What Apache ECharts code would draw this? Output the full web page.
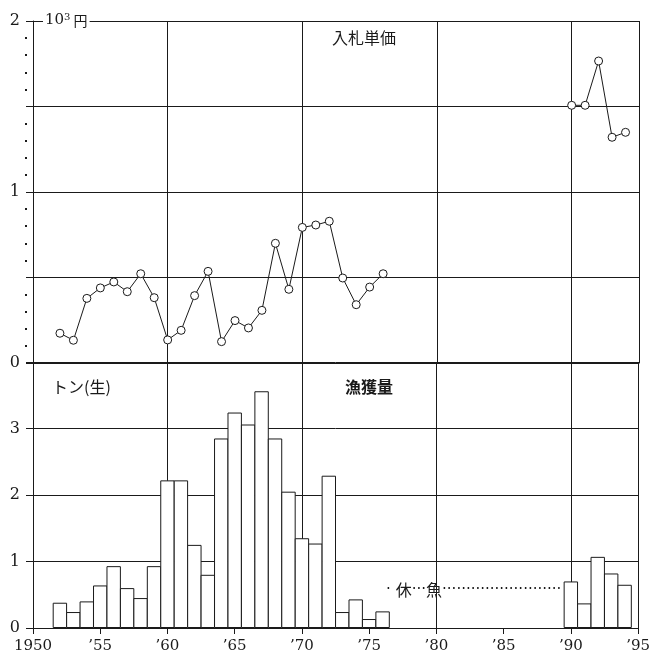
<!DOCTYPE html>
<html><head><meta charset="utf-8">
<script src="https://cdn.jsdelivr.net/npm/echarts@6/dist/echarts.min.js"></script>
<style>html,body{margin:0;padding:0;background:#fff}#c{width:653px;height:662px}</style>
</head><body><div id="c"></div>
<script>
// 入札単価 (10^3 円)
const priceYears = [1952,1953,1954,1955,1956,1957,1958,1959,1960,1961,1962,1963,1964,1965,1966,1967,1968,1969,1970,1971,1972,1973,1974,1975,1976,1990,1991,1992,1993,1994];
const priceValues = [0.174,0.133,0.378,0.439,0.474,0.417,0.522,0.382,0.135,0.191,0.394,0.536,0.125,0.248,0.205,0.308,0.70,0.431,0.793,0.807,0.829,0.497,0.341,0.444,0.522,1.507,1.507,1.766,1.32,1.349];
// 漁獲量 (トン)
const catchYears = [1952,1953,1954,1955,1956,1957,1958,1959,1960,1961,1962,1963,1964,1965,1966,1967,1968,1969,1970,1971,1972,1973,1974,1975,1976,1990,1991,1992,1993,1994];
const catchValues = [0.38,0.24,0.40,0.64,0.93,0.60,0.45,0.93,2.22,2.22,1.25,0.80,2.85,3.24,3.06,3.56,2.85,2.05,1.35,1.27,2.29,0.24,0.43,0.135,0.25,0.70,0.37,1.07,0.82,0.65];
// axis ticks
const xMin = 1950, xMax = 1995;
const topYMax = 2, bottomYMax = 4;

const SERIF = '"DejaVu Serif", "Liberation Serif", serif';
const CJK = '"Noto Sans CJK JP", sans-serif';
const LATIN = '"DejaVu Sans", sans-serif';
const INK = '#1a1a1a';

const priceData = [];
for (let i = 0; i < priceYears.length; i++) {
  if (i > 0 && priceYears[i] - priceYears[i-1] > 1) priceData.push([(priceYears[i] + priceYears[i-1]) / 2, '-']);
  priceData.push([priceYears[i], priceValues[i]]);
}
const catchData = catchYears.map((y, i) => [y, catchValues[i]]);

const chart = echarts.init(document.getElementById('c'), null, {renderer: 'canvas'});
const gridLine = {show: true, lineStyle: {color: INK, width: 1}};
const axisLine = {show: true, lineStyle: {color: INK, width: 1}};

chart.setOption({
  animation: false,
  backgroundColor: '#fff',
  grid: [
    {left: 33, top: 21, width: 606, height: 342},
    {left: 33, top: 362, width: 606, height: 266}
  ],
  xAxis: [
    {gridIndex: 0, type: 'value', min: xMin, max: xMax, interval: 10, position: 'bottom',
     axisLine: axisLine, axisTick: {show: false}, axisLabel: {show: false}, splitLine: gridLine},
    {gridIndex: 1, type: 'value', min: xMin, max: xMax, interval: 10, position: 'bottom',
     axisLine: {show: false}, axisTick: {show: false}, axisLabel: {show: false}, splitLine: gridLine},
    {gridIndex: 1, type: 'value', min: xMin, max: xMax, interval: 5, position: 'bottom',
     axisLine: axisLine, axisTick: {show: true, inside: false, length: 6, lineStyle: {color: INK}},
     splitLine: {show: false},
     axisLabel: {show: true, margin: 11, color: INK, fontFamily: SERIF, fontSize: 15,
       formatter: v => v === 1950 ? '1950' : '\u2019' + String(v).slice(2)}}
  ],
  yAxis: [
    {gridIndex: 0, type: 'value', min: 0, max: topYMax, interval: 0.5, position: 'left',
     axisLine: axisLine, axisTick: {show: true, inside: false, length: 7, lineStyle: {color: INK}},
     splitLine: gridLine,
     axisLabel: {show: true, margin: 13, color: INK, fontFamily: SERIF, fontSize: 16,
       formatter: v => Number.isInteger(v) ? String(v) : ''}},
    {gridIndex: 0, type: 'value', min: 0, max: topYMax, interval: 0.5, position: 'left', offset: 6,
     axisLine: {show: false}, axisTick: {show: false}, axisLabel: {show: false}, splitLine: {show: false},
     minorTick: {show: true, splitNumber: 5, length: 2, lineStyle: {color: INK, width: 2}}},
    {gridIndex: 1, type: 'value', min: 0, max: bottomYMax, interval: 1, position: 'left',
     axisLine: axisLine, axisTick: {show: true, inside: false, length: 7, lineStyle: {color: INK}},
     splitLine: gridLine,
     axisLabel: {show: true, margin: 13, color: INK, fontFamily: SERIF, fontSize: 16,
       formatter: v => v === bottomYMax ? '' : String(v)}}
  ],
  series: [
    {type: 'line', xAxisIndex: 0, yAxisIndex: 0, data: priceData, connectNulls: false,
     symbol: 'circle', symbolSize: 8, showSymbol: true,
     lineStyle: {color: INK, width: 1},
     itemStyle: {color: '#fff', borderColor: INK, borderWidth: 1}, z: 5},
    {type: 'bar', xAxisIndex: 2, yAxisIndex: 2, data: catchData, barWidth: 14.4,
     itemStyle: {color: '#fff', borderColor: INK, borderWidth: 1}, z: 5}
  ],
  graphic: [
    {type: 'text', left: 43, top: 12, z: 100,
     style: {text: '{a|10}{b|3}{c| 円}', backgroundColor: '#fff', padding: [0, 2],
       rich: {a: {fontFamily: SERIF, fontSize: 15, fill: INK, color: INK},
              b: {fontFamily: SERIF, fontSize: 10, verticalAlign: 'top', fill: INK, color: INK, padding: [0, 0, 7, 0]},
              c: {fontFamily: CJK, fontSize: 14, fill: INK, color: INK}}}},
    {type: 'text', left: 332, top: 30, z: 100,
     style: {text: '入札単価', fontFamily: CJK, fontSize: 16, fill: INK}},
    {type: 'text', left: 52, top: 379, z: 100,
     style: {text: 'トン(生)', fontFamily: CJK, fontSize: 16, fill: INK}},
    {type: 'text', left: 386, top: 582, z: 100,
     style: {text: '{d|·}{k1|休}{d|···}{k|魚}{d|·························}',
       rich: {d: {fontFamily: LATIN, fontSize: 15, fill: INK, color: INK},
              k1: {fontFamily: CJK, fontSize: 16, fill: INK, color: INK, padding: [0, 0, 0, 5]},
              k: {fontFamily: CJK, fontSize: 16, fill: INK, color: INK}}}},
    {type: 'text', left: 345, top: 379, z: 100,
     style: {text: '漁獲量', fontFamily: CJK, fontSize: 16, fontWeight: 'bold', fill: INK}}
  ]
});
</script></body></html>
